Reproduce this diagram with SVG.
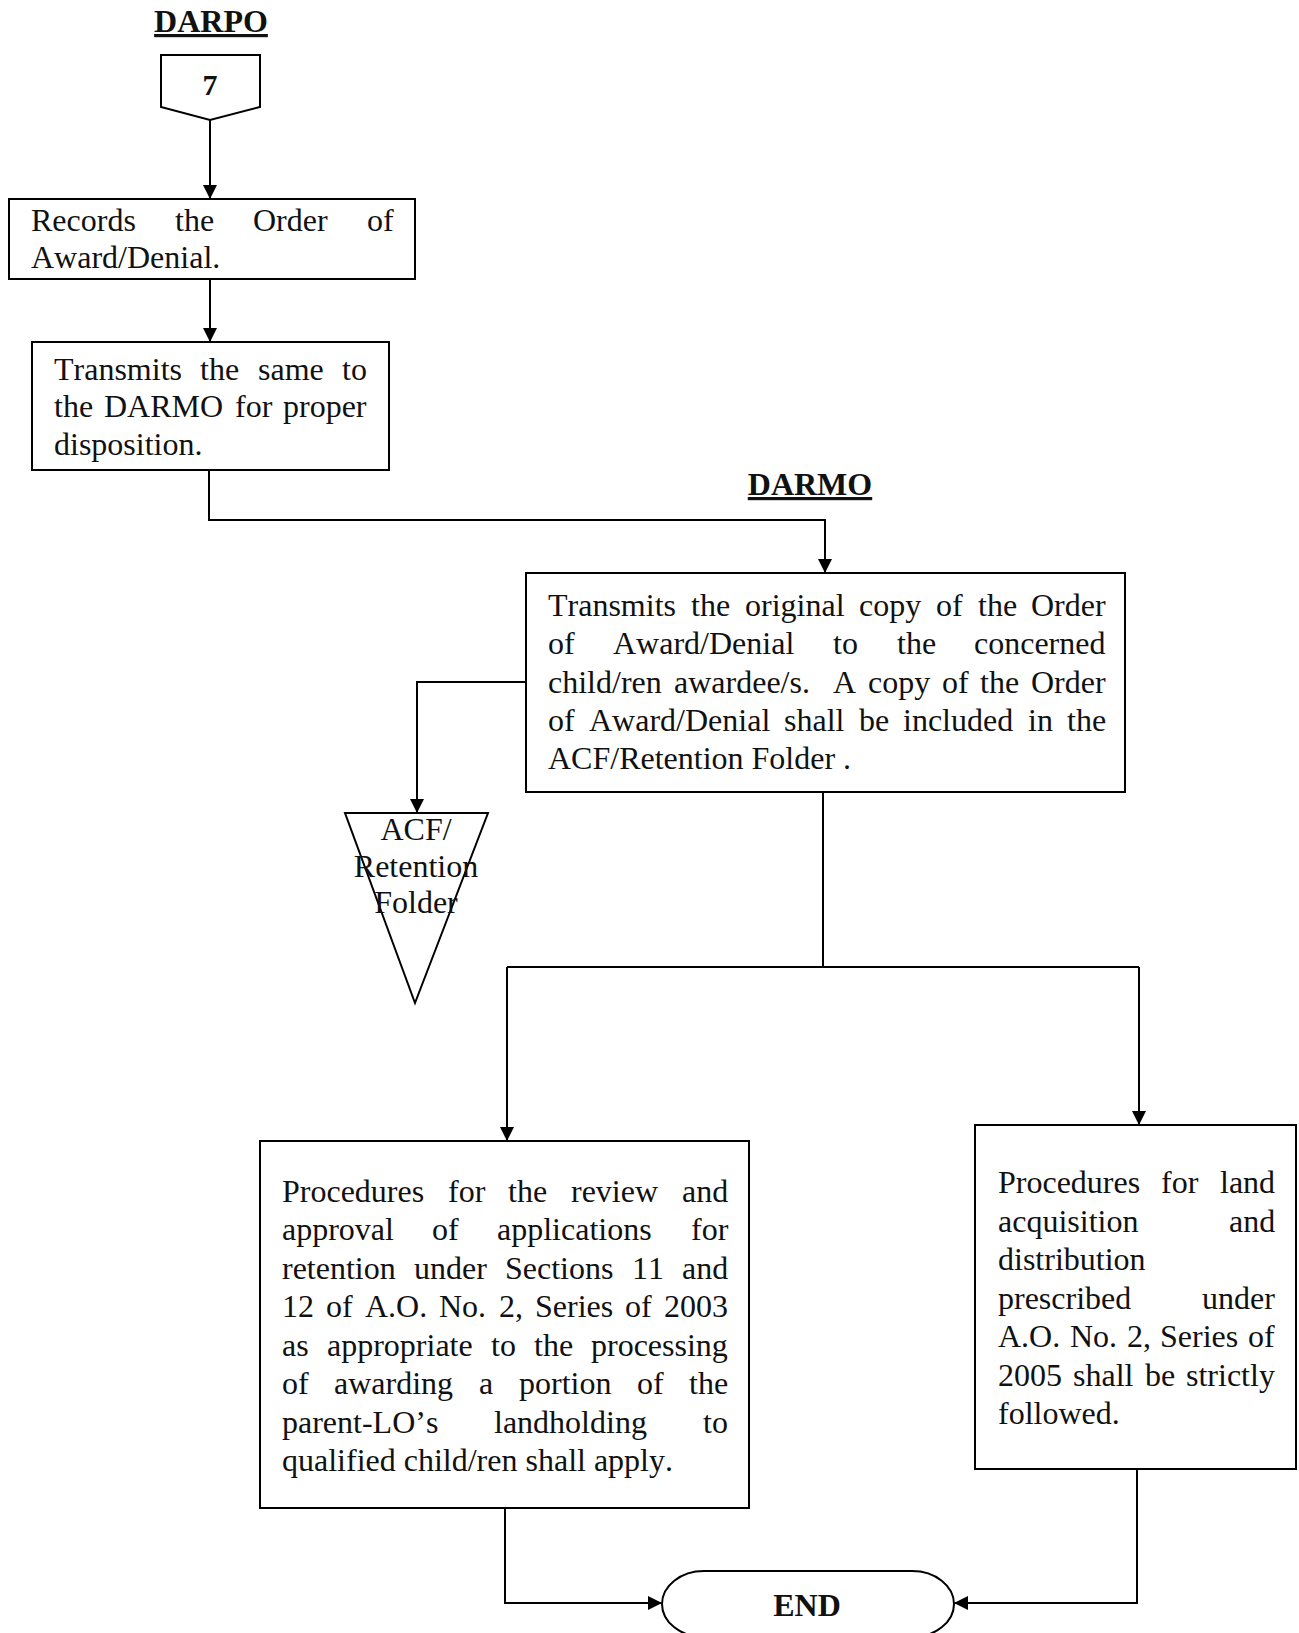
<svg xmlns="http://www.w3.org/2000/svg" width="1299" height="1633" viewBox="0 0 1299 1633">
<style>
  .box { fill: #fff; stroke: #000; stroke-width: 2; }
  .t { font-family: "Liberation Serif", "Times New Roman", serif; font-size: 32px; fill: #111; font-kerning: none; }
  .hd { font-family: "Liberation Serif", "Times New Roman", serif; font-size: 32px; font-weight: bold; fill: #111; text-decoration: underline; }
  .b { font-family: "Liberation Serif", "Times New Roman", serif; font-weight: bold; fill: #111; }
  .c { fill: none; stroke: #000; stroke-width: 2; }
</style>
<defs>
  <marker id="ah" markerUnits="userSpaceOnUse" markerWidth="14" markerHeight="14" refX="13" refY="7" orient="auto">
    <path d="M0,0 L14,7 L0,14 Z" fill="#000"/>
  </marker>
</defs>
<rect width="1299" height="1633" fill="#fff"/>

<g id="label-darpo"><text class="hd" x="211" y="32" text-anchor="middle">DARPO</text></g>
<g id="label-darmo"><text class="hd" x="810" y="495" text-anchor="middle">DARMO</text></g>

<g id="connectors">
  <path class="c" d="M210,120 L210,198" marker-end="url(#ah)"/>
  <path class="c" d="M210,279 L210,341" marker-end="url(#ah)"/>
  <path class="c" d="M209,470 L209,520 L825,520 L825,572" marker-end="url(#ah)"/>
  <path class="c" d="M526,682 L417,682 L417,812" marker-end="url(#ah)"/>
  <path class="c" d="M823,792 L823,967"/>
  <path class="c" d="M507,967 L1139,967"/>
  <path class="c" d="M507,967 L507,1140" marker-end="url(#ah)"/>
  <path class="c" d="M1139,967 L1139,1124" marker-end="url(#ah)"/>
  <path class="c" d="M505,1508 L505,1603 L661,1603" marker-end="url(#ah)"/>
  <path class="c" d="M1137,1469 L1137,1603 L955,1603" marker-end="url(#ah)"/>
</g>

<g id="n7">
  <polygon class="box" points="161,55 260,55 260,107 210,120 161,107"/>
  <text class="b" x="210" y="95" font-size="30" text-anchor="middle">7</text>
</g>

<g id="records">
  <rect class="box" x="9" y="199" width="406" height="80"/>
  <text class="t" y="231"><tspan x="31">Records</tspan><tspan x="175">the</tspan><tspan x="253">Order</tspan><tspan x="367">of</tspan></text>
  <text class="t" x="31" y="268">Award/Denial.</text>
</g>

<g id="transmits-same">
  <rect class="box" x="32" y="342" width="357" height="128"/>
  <text class="t" y="380"><tspan x="54">Transmits</tspan><tspan x="200">the</tspan><tspan x="258">same</tspan><tspan x="342">to</tspan></text>
  <text class="t" y="417"><tspan x="54">the</tspan><tspan x="104">DARMO</tspan><tspan x="235">for</tspan><tspan x="283">proper</tspan></text>
  <text class="t" x="54" y="455">disposition.</text>
</g>

<g id="darmo-transmits">
  <rect class="box" x="526" y="573" width="599" height="219"/>
  <text class="t" y="616"><tspan x="548">Transmits</tspan><tspan x="691">the</tspan><tspan x="745">original</tspan><tspan x="859">copy</tspan><tspan x="936">of</tspan><tspan x="978">the</tspan><tspan x="1031">Order</tspan></text>
  <text class="t" y="654"><tspan x="548">of</tspan><tspan x="613">Award/Denial</tspan><tspan x="833">to</tspan><tspan x="897">the</tspan><tspan x="974">concerned</tspan></text>
  <text class="t" y="693"><tspan x="548">child/ren</tspan><tspan x="674">awardee/s.</tspan><tspan x="833">A</tspan><tspan x="868">copy</tspan><tspan x="942">of</tspan><tspan x="980">the</tspan><tspan x="1031">Order</tspan></text>
  <text class="t" y="731"><tspan x="548">of</tspan><tspan x="589">Award/Denial</tspan><tspan x="784">shall</tspan><tspan x="859">be</tspan><tspan x="903">included</tspan><tspan x="1028">in</tspan><tspan x="1067">the</tspan></text>
  <text class="t" x="548" y="769">ACF/Retention Folder .</text>
</g>

<g id="acf-folder">
  <polygon class="box" points="345,813 488,813 415,1003"/>
  <text class="t" x="416" y="840" text-anchor="middle">ACF/</text>
  <text class="t" x="416" y="877" text-anchor="middle">Retention</text>
  <text class="t" x="416" y="913" text-anchor="middle">Folder</text>
</g>

<g id="retention-procedures">
  <rect class="box" x="260" y="1141" width="489" height="367"/>
  <text class="t" y="1202"><tspan x="282">Procedures</tspan><tspan x="448">for</tspan><tspan x="508">the</tspan><tspan x="571">review</tspan><tspan x="682">and</tspan></text>
  <text class="t" y="1240"><tspan x="282">approval</tspan><tspan x="432">of</tspan><tspan x="497">applications</tspan><tspan x="691">for</tspan></text>
  <text class="t" y="1279"><tspan x="282">retention</tspan><tspan x="414">under</tspan><tspan x="505">Sections</tspan><tspan x="632">11</tspan><tspan x="682">and</tspan></text>
  <text class="t" y="1317"><tspan x="282">12</tspan><tspan x="326">of</tspan><tspan x="365">A.O.</tspan><tspan x="439">No.</tspan><tspan x="499">2,</tspan><tspan x="535">Series</tspan><tspan x="625">of</tspan><tspan x="664">2003</tspan></text>
  <text class="t" y="1356"><tspan x="282">as</tspan><tspan x="327">appropriate</tspan><tspan x="491">to</tspan><tspan x="534">the</tspan><tspan x="591">processing</tspan></text>
  <text class="t" y="1394"><tspan x="282">of</tspan><tspan x="334">awarding</tspan><tspan x="479">a</tspan><tspan x="519">portion</tspan><tspan x="637">of</tspan><tspan x="689">the</tspan></text>
  <text class="t" y="1433"><tspan x="282">parent-LO’s</tspan><tspan x="494">landholding</tspan><tspan x="703">to</tspan></text>
  <text class="t" x="282" y="1471">qualified child/ren shall apply.</text>
</g>

<g id="land-procedures">
  <rect class="box" x="975" y="1125" width="321" height="344"/>
  <text class="t" y="1193"><tspan x="998">Procedures</tspan><tspan x="1161">for</tspan><tspan x="1220">land</tspan></text>
  <text class="t" y="1232"><tspan x="998">acquisition</tspan><tspan x="1229">and</tspan></text>
  <text class="t" x="998" y="1270">distribution</text>
  <text class="t" y="1309"><tspan x="998">prescribed</tspan><tspan x="1202">under</tspan></text>
  <text class="t" y="1347"><tspan x="998">A.O.</tspan><tspan x="1070">No.</tspan><tspan x="1127">2,</tspan><tspan x="1160">Series</tspan><tspan x="1248">of</tspan></text>
  <text class="t" y="1386"><tspan x="998">2005</tspan><tspan x="1073">shall</tspan><tspan x="1145">be</tspan><tspan x="1186">strictly</tspan></text>
  <text class="t" x="998" y="1424">followed.</text>
</g>

<g id="end">
  <rect class="box" x="662" y="1571" width="292" height="66" rx="42" ry="33"/>
  <text class="b" x="807" y="1616" font-size="32" text-anchor="middle">END</text>
</g>
</svg>
